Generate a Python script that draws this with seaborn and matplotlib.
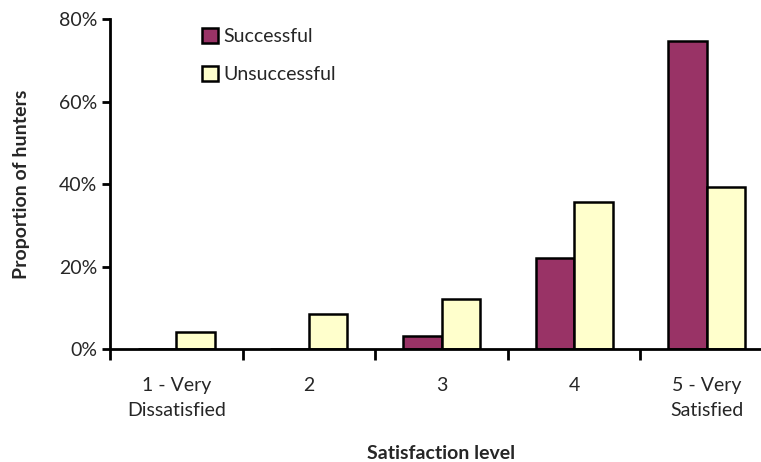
import pandas as pd
import numpy as np
import seaborn as sns
import matplotlib.pyplot as plt
from matplotlib.ticker import PercentFormatter, FixedLocator

# Data
levels = ['1 - Very\nDissatisfied', '2', '3', '4', '5 - Very\nSatisfied']
successful = [0.0, 0.0, 3.2, 22.0, 74.6]
unsuccessful = [4.1, 8.5, 12.1, 35.6, 39.2]
groups = ['Successful', 'Unsuccessful']
colors = ['#993366', '#FFFFCC']

df = pd.DataFrame({
    'level': levels * 2,
    'value': successful + unsuccessful,
    'group': [groups[0]] * len(levels) + [groups[1]] * len(levels),
})

sns.set_style('white')
plt.rcParams['font.family'] = ['Lato', 'DejaVu Sans']

fig = plt.figure(figsize=(7.61, 4.62), dpi=100)
ax = fig.add_axes([110 / 761, 112.7 / 462, 663 / 761, 330.3 / 462])

sns.barplot(data=df, x='level', y='value', hue='group', palette=colors,
            width=0.58, edgecolor='black', linewidth=1.8, ax=ax, saturation=1)

ax.set_xlim(-0.5, 4.5)
ax.set_ylim(0, 80)
ax.set_yticks([0, 20, 40, 60, 80])
ax.yaxis.set_major_formatter(PercentFormatter(decimals=0))
ax.tick_params(axis='y', which='major', direction='out', length=6, width=2,
               color='black', labelsize=14, pad=3, left=True)
ax.tick_params(axis='x', which='major', length=0, labelsize=14, pad=20)
for lbl in ax.get_xticklabels():
    lbl.set_linespacing(1.55)
ax.xaxis.set_minor_locator(FixedLocator(np.arange(-0.5, 5.0, 1.0)))
ax.tick_params(axis='x', which='minor', direction='out', length=8, width=2,
               color='black', bottom=True)

for side in ['top', 'right']:
    ax.spines[side].set_visible(False)
for side in ['left', 'bottom']:
    ax.spines[side].set_color('black')
    ax.spines[side].set_linewidth(2)

ax.set_xlabel('Satisfaction level', fontsize=14, fontweight='bold')
ax.set_ylabel('Proportion of hunters', fontsize=14, fontweight='bold')
ax.xaxis.set_label_coords(0.5, -0.29)
ax.yaxis.set_label_coords(-0.12, 0.5)

ax.legend(loc='upper left', bbox_to_anchor=(0.139, 0.972), frameon=False,
          fontsize=14, handlelength=0.8, handleheight=0.8, handletextpad=0.3,
          labelspacing=1.05, borderpad=0, borderaxespad=0)

fig.savefig('out.png', dpi=100)
